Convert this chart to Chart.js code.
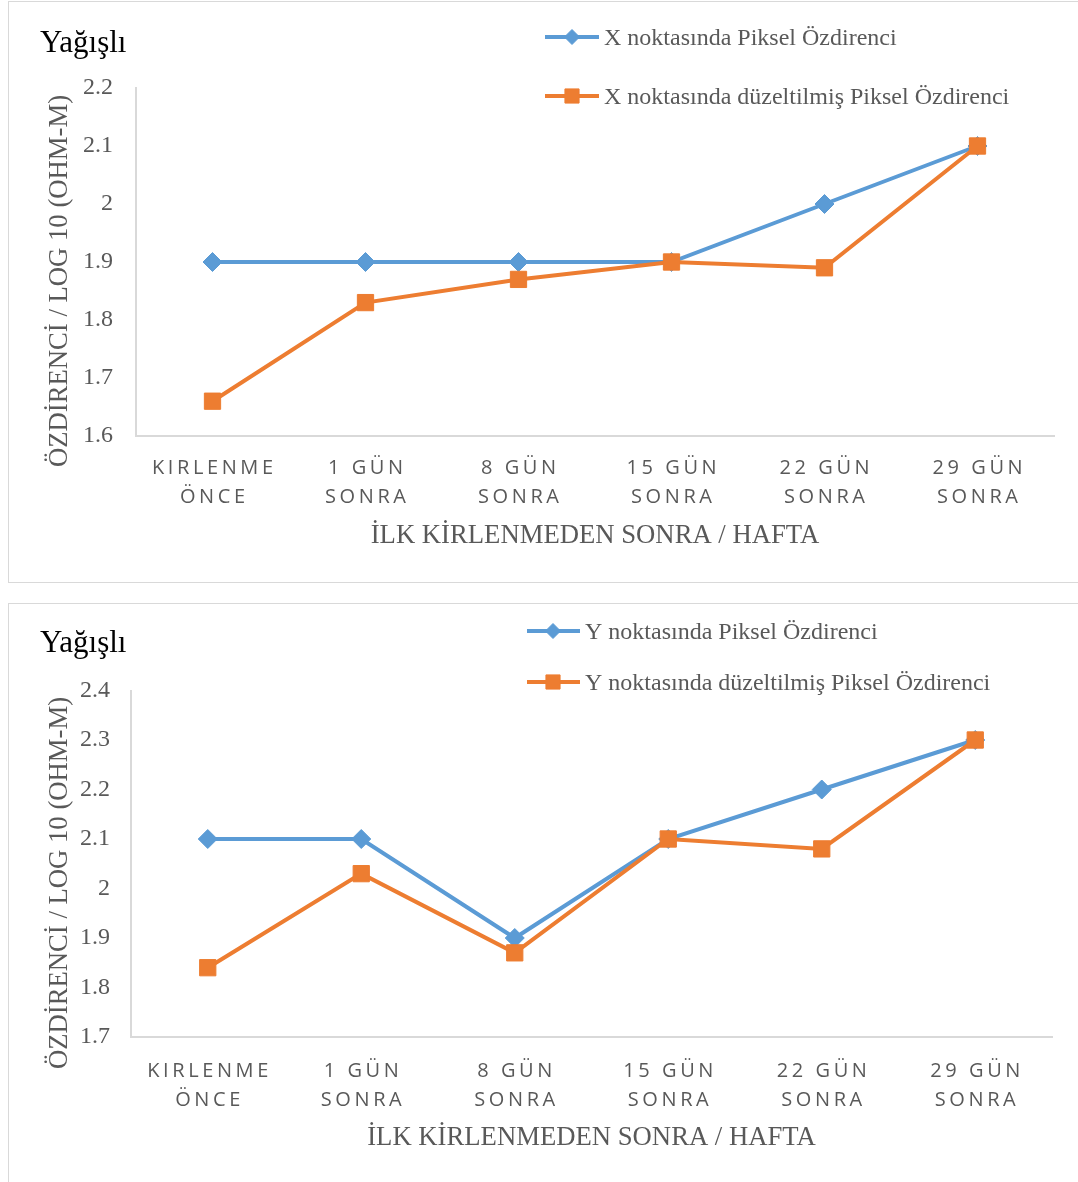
<!DOCTYPE html>
<html lang="tr">
<head>
<meta charset="utf-8">
<title>Yağışlı – Piksel Özdirenci</title>
<script src="https://cdn.jsdelivr.net/npm/chart.js@4.4.1/dist/chart.umd.min.js"></script>
<style>
  html, body { margin: 0; padding: 0; background: #ffffff; overflow: hidden; }
  body { width: 1078px; height: 1182px; position: relative; }
  .panel { position: absolute; border: 1.5px solid #d9d9d9; box-sizing: border-box; background: #ffffff; }
  #panelTop { left: 8px; top: 1px; width: 1200px; height: 582px; }
  #panelBottom { left: 8px; top: 603px; width: 1200px; height: 700px; }
  canvas { position: absolute; left: 0; z-index: 2; }
  #chartTop { top: 0; }
  #chartBottom { top: 600px; }
</style>
</head>
<body>
<div class="panel" id="panelTop"></div>
<div class="panel" id="panelBottom"></div>
<canvas id="chartTop" width="1078" height="592"></canvas>
<canvas id="chartBottom" width="1078" height="582"></canvas>
<script>
// ---- data ----
const categories = [
  ['KIRLENME', 'ÖNCE'],
  ['1 GÜN', 'SONRA'],
  ['8 GÜN', 'SONRA'],
  ['15 GÜN', 'SONRA'],
  ['22 GÜN', 'SONRA'],
  ['29 GÜN', 'SONRA']
];
const panelTitle = 'Yağışlı';
const yAxisTitle = 'ÖZDİRENCİ / LOG 10 (OHM-M)';
const xAxisTitle = 'İLK KİRLENMEDEN SONRA / HAFTA';

const pointXLabels = ['X noktasında Piksel Özdirenci', 'X noktasında düzeltilmiş Piksel Özdirenci'];
const pointXPixel = [1.9, 1.9, 1.9, 1.9, 2.0, 2.1];
const pointXCorrected = [1.66, 1.83, 1.87, 1.90, 1.89, 2.1];
const pointXTicks = [1.6, 1.7, 1.8, 1.9, 2.0, 2.1, 2.2];

const pointYLabels = ['Y noktasında Piksel Özdirenci', 'Y noktasında düzeltilmiş Piksel Özdirenci'];
const pointYPixel = [2.1, 2.1, 1.9, 2.1, 2.2, 2.3];
const pointYCorrected = [1.84, 2.03, 1.87, 2.10, 2.08, 2.30];
const pointYTicks = [1.7, 1.8, 1.9, 2.0, 2.1, 2.2, 2.3, 2.4];

// ---- styling ----
const BLUE = '#5b9bd5';
const ORANGE = '#ed7d31';
const GREY_TEXT = '#595959';
const AXIS_LINE = '#d9d9d9';
const SERIF = '"Liberation Serif", "Times New Roman", serif';
const SANS = '"Open Sans", "Liberation Sans", sans-serif';

// Draws the panel heading, the rotated value-axis title and the line+marker legend.
const panelText = {
  id: 'panelText',
  afterDraw(chart, args, opts) {
    const ctx = chart.ctx;
    ctx.save();
    // heading
    ctx.fillStyle = '#000000';
    ctx.font = '31px ' + SERIF;
    ctx.textAlign = 'left';
    ctx.textBaseline = 'alphabetic';
    ctx.fillText(opts.title, opts.titleX, opts.titleY);

    // value axis title
    ctx.save();
    ctx.translate(opts.yTitleX, opts.yTitleY);
    ctx.rotate(-Math.PI / 2);
    ctx.fillStyle = GREY_TEXT;
    ctx.font = '26.7px ' + SERIF;
    ctx.textAlign = 'center';
    ctx.textBaseline = 'middle';
    ctx.fillText(yAxisTitle, 0, 0);
    ctx.restore();

    // legend
    chart.data.datasets.forEach((ds, i) => {
      const y = opts.legendRows[i];
      ctx.strokeStyle = ds.borderColor;
      ctx.lineWidth = ds.borderWidth;
      ctx.beginPath();
      ctx.moveTo(opts.legendX1, y);
      ctx.lineTo(opts.legendX2, y);
      ctx.stroke();
      ctx.fillStyle = ds.pointBackgroundColor;
      ctx.strokeStyle = ds.pointBorderColor;
      ctx.lineWidth = 1;
      Chart.helpers.drawPoint(ctx, {
        pointStyle: ds.pointStyle,
        radius: ds.pointStyle === 'rect' ? 10 : 7.5,
        rotation: 0,
        borderWidth: 1
      }, opts.legendMarkerX, y);
      ctx.fillStyle = GREY_TEXT;
      ctx.font = '24px ' + SERIF;
      ctx.textAlign = 'left';
      ctx.textBaseline = 'alphabetic';
      ctx.fillText(ds.label, opts.legendTextX, y + 8);
    });
    ctx.restore();
  }
};

// Wide letter spacing for the category labels.
const spacedCategoryLabels = {
  id: 'spacedCategoryLabels',
  beforeDraw(chart) {
    const sc = chart.scales.x;
    if (!sc || sc._spacedLabels) return;
    const original = sc.drawLabels.bind(sc);
    sc.drawLabels = function (area) {
      const ctx = this.ctx;
      ctx.save();
      ctx.letterSpacing = '3.6px';
      ctx.translate(1.8, 0);
      original(area);
      ctx.restore();
    };
    sc._spacedLabels = true;
  }
};

function buildChart(canvasId, labels, pixelValues, correctedValues, tickValues, g) {
  const canvas = document.getElementById(canvasId);
  const W = canvas.width, H = canvas.height;
  const xTitleLineHeight = 32;
  const xScaleHeight = g.xTitleY + xTitleLineHeight / 2 - g.bottom;
  const tickLineHeight = 29;

  return new Chart(canvas, {
    type: 'line',
    data: {
      labels: categories,
      datasets: [
        {
          label: labels[0],
          data: pixelValues,
          borderColor: BLUE,
          backgroundColor: BLUE,
          pointBackgroundColor: BLUE,
          pointBorderColor: BLUE,
          borderWidth: 4,
          pointStyle: 'rectRot',
          pointRadius: 9.5,
          pointBorderWidth: 1,
          tension: 0,
          fill: false,
          order: 2
        },
        {
          label: labels[1],
          data: correctedValues,
          borderColor: ORANGE,
          backgroundColor: ORANGE,
          pointBackgroundColor: ORANGE,
          pointBorderColor: ORANGE,
          borderWidth: 4,
          pointStyle: 'rect',
          pointRadius: 11.5,
          pointBorderWidth: 1,
          tension: 0,
          fill: false,
          order: 1
        }
      ]
    },
    options: {
      responsive: false,
      animation: false,
      devicePixelRatio: 1,
      events: [],
      layout: {
        padding: { left: 0, top: g.top, right: W - g.right, bottom: H - g.bottom - xScaleHeight }
      },
      plugins: {
        legend: { display: false },
        tooltip: { enabled: false },
        title: { display: false },
        panelText: {
          title: panelTitle,
          titleX: 40, titleY: 52,
          yTitleX: g.yTitleX, yTitleY: g.yTitleY,
          legendRows: g.legendRows,
          legendX1: g.legendX1, legendX2: g.legendX2,
          legendMarkerX: g.legendMarkerX, legendTextX: g.legendTextX
        }
      },
      scales: {
        x: {
          type: 'category',
          offset: true,
          grid: { display: false, drawTicks: false },
          border: { display: true, color: AXIS_LINE, width: 2 },
          ticks: {
            color: GREY_TEXT,
            font: { family: SANS, size: 20, lineHeight: tickLineHeight + 'px' },
            padding: g.xTickCenter - g.bottom - tickLineHeight / 2,
            maxRotation: 0,
            autoSkip: false
          },
          title: {
            display: true,
            text: xAxisTitle,
            color: GREY_TEXT,
            font: { family: SERIF, size: 26.7, lineHeight: xTitleLineHeight + 'px' },
            padding: { top: 0, bottom: 0 }
          },
          afterFit(scale) { scale.height = xScaleHeight; }
        },
        y: {
          type: 'linear',
          min: tickValues[0],
          max: tickValues[tickValues.length - 1],
          grid: { display: false, drawTicks: false },
          border: { display: true, color: AXIS_LINE, width: 2 },
          afterBuildTicks(scale) { scale.ticks = tickValues.map(v => ({ value: v })); },
          ticks: {
            color: GREY_TEXT,
            font: { family: SERIF, size: 24 },
            padding: g.yTickPad,
            callback: v => String(Number(Number(v).toFixed(2)))
          },
          afterFit(scale) { scale.width = g.left; }
        }
      }
    },
    plugins: [panelText, spacedCategoryLabels]
  });
}

buildChart('chartTop', pointXLabels, pointXPixel, pointXCorrected, pointXTicks, {
  left: 136, right: 1054, top: 88, bottom: 436,
  xTickCenter: 468.5, xTitleY: 536,
  yTitleX: 60, yTitleY: 281, yTickPad: 23,
  legendRows: [37, 96], legendX1: 545, legendX2: 599, legendMarkerX: 572, legendTextX: 604
});

buildChart('chartBottom', pointYLabels, pointYPixel, pointYCorrected, pointYTicks, {
  left: 131, right: 1052, top: 90.5, bottom: 437,
  xTickCenter: 471, xTitleY: 538,
  yTitleX: 60, yTitleY: 283, yTickPad: 21,
  legendRows: [31, 82], legendX1: 527, legendX2: 580, legendMarkerX: 553, legendTextX: 585
});
</script>
</body>
</html>
